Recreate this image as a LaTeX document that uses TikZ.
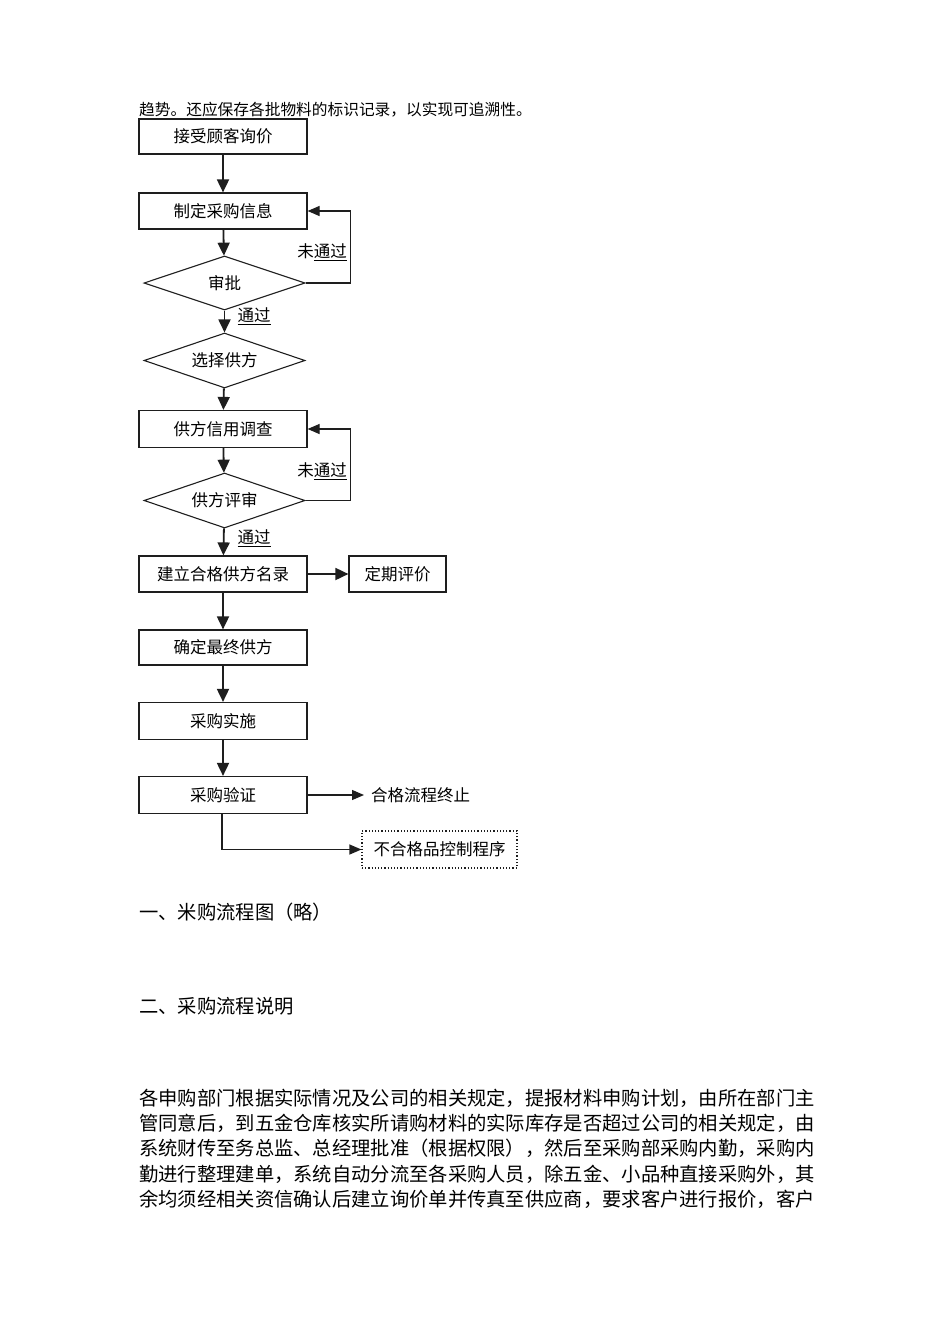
\documentclass[tikz,border=0pt]{standalone}
\usepackage{fontspec}
\setmainfont{Noto Sans CJK SC}
\usetikzlibrary{shapes.geometric,arrows.meta}
\definecolor{linec}{HTML}{1E1E1E}
\newcommand{\fcs}{\fontsize{16.5}{18}\selectfont}
\newcommand{\bds}{\fontsize{19.3}{22}\selectfont}
\newcommand{\tps}{\fontsize{15.7}{18}\selectfont}
\begin{document}
\begin{tikzpicture}[x=1pt,y=-1pt,
  box/.style={draw=linec, line width=1.2pt, minimum width=168pt, minimum height=36pt, inner sep=0pt, font=\fcs},
  dia/.style={draw=linec, line width=1.1pt, diamond, shape aspect=3, minimum width=161pt, minimum height=55pt, inner sep=0pt, font=\fcs},
  flow/.style={draw=linec, line width=1.8pt, -{Triangle[length=13pt,width=12pt]}},
  thinflow/.style={draw=linec, line width=1.2pt, -{Triangle[length=12pt,width=10pt]}},
  lbl/.style={font=\fcs, inner sep=0pt},
  txt/.style={anchor=base west, inner sep=0pt},
]
\useasboundingbox (0,0) rectangle (950,1344);
\fill[white] (0,0) rectangle (950,1344);

% top line
\node[txt, font=\tps] (top) at (139,115) {趋势。还应保存各批物料的标识记录，以实现可追溯性。};

% flowchart
\node[box, minimum height=35pt] (b1) at (223,136.5) {接受顾客询价};
\node[box] (b2) at (223,211) {制定采购信息};
\node[dia, minimum height=54pt] (d1) at (224.5,283) {审批};
\node[dia] (d2) at (224.5,360.5) {选择供方};
\node[box, minimum height=37pt] (b3) at (223,429) {供方信用调查};
\node[dia] (d3) at (224.5,500.5) {供方评审};
\node[box] (b4) at (223,574) {建立合格供方名录};
\node[box, minimum width=97pt] (b5) at (397.5,574) {定期评价};
\node[box, minimum height=35pt] (b6) at (223,647.5) {确定最终供方};
\node[box, minimum height=37pt] (b7) at (223,721) {采购实施};
\node[box, minimum height=37pt] (b8) at (223,795) {采购验证};
\node[box, dotted, line width=1.2pt, minimum width=155pt, minimum height=37pt] (b9) at (439.5,849.5) {不合格品控制程序};
\node[lbl, anchor=west, inner xsep=7pt] (e1) at (364,795) {合格流程终止};

\draw[flow] (b1) -- (b2);
\draw[flow] (b2) -- (d1);
\draw[flow] (d1) -- (d2);
\draw[flow] (d2) -- (b3);
\draw[flow] (b3) -- (d3);
\draw[flow] (d3) -- (b4);
\draw[flow] (b4) -- (b5);
\draw[flow] (b4) -- (b6);
\draw[flow] (b6) -- (b7);
\draw[flow] (b7) -- (b8);
\draw[thinflow] (b8.east) -- (e1.west);
\draw[thinflow] ([xshift=-1pt]b8.south) |- (b9.west);

\draw[thinflow] (d1.east) -| ([xshift=43pt]b2.east) -- (b2.east);
\draw[thinflow] (d3.east) -| ([xshift=43pt]b3.east) -- (b3.east);

\node[lbl] (n1) at (322,252) {未\underline{通过}};
\node[lbl] (p1) at (254,316) {\underline{通过}};
\node[lbl] (n2) at (322,471) {未\underline{通过}};
\node[lbl] (p2) at (254,538) {\underline{通过}};

% text below
\node[txt, font=\bds] (h1) at (139,919.3) {一、米购流程图（略）};
\node[txt, font=\bds] (h2) at (139,1013.3) {二、采购流程说明};
\node[txt, font=\bds] (l1) at (139,1105.3) {各申购部门根据实际情况及公司的相关规定，提报材料申购计划，由所在部门主};
\node[txt, font=\bds] (l2) at (139,1130.3) {管同意后，到五金仓库核实所请购材料的实际库存是否超过公司的相关规定，由};
\node[txt, font=\bds] (l3) at (139,1155.3) {系统财传至务总监、总经理批准（根据权限），然后至采购部采购内勤，采购内};
\node[txt, font=\bds] (l4) at (139,1181.3) {勤进行整理建单，系统自动分流至各采购人员，除五金、小品种直接采购外，其};
\node[txt, font=\bds] (l5) at (139,1206.3) {余均须经相关资信确认后建立询价单并传真至供应商，要求客户进行报价，客户};
\end{tikzpicture}
\end{document}
